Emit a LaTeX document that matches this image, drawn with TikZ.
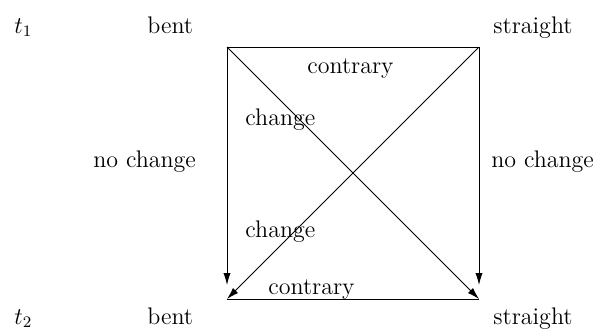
\documentclass[tikz,border=0pt]{standalone}
\usetikzlibrary{positioning,arrows.meta}
\tikzset{
  flow/.style={-{Latex[length=6pt,width=3.6pt]},line width=0.45pt},
  edge/.style={line width=0.5pt},
  lbl/.style={anchor=base west,inner sep=0pt,font=\fontsize{12}{14}\selectfont}
}
\begin{document}
\begin{tikzpicture}[x=0.5pt,y=-0.5pt]
  \useasboundingbox (0,0) rectangle (594,329);
  % corners of the square
  \coordinate (tl) at (227,47);
  \coordinate (tr) at (479,47);
  \coordinate (bl) at (227,299);
  \coordinate (br) at (479,299);
  % row labels
  \node[lbl] (time1) at (14,33) {$t_1$};
  \node[lbl] (bent1) at (147,33) {bent};
  \node[lbl] (straight1) at (493,33) {straight};
  \node[lbl] (time2) at (14,324) {$t_2$};
  \node[lbl] (bent2) at (147,324) {bent};
  \node[lbl] (straight2) at (493,324) {straight};
  % edge labels
  \node[lbl] (contrary1) at (307,73) {contrary};
  \node[lbl] (change1) at (245,125) {change};
  \node[lbl] (nochange1) at (93,167) {no change};
  \node[lbl] (nochange2) at (491,167) {no change};
  \node[lbl] (change2) at (245,237) {change};
  \node[lbl] (contrary2) at (268,294) {contrary};
  % connectors
  \draw[edge] (tl) -- (tr);
  \draw[edge] (bl) -- (br);
  \draw[flow,shorten >=7pt] (tl) -- (bl);
  \draw[flow,shorten >=7pt] (tr) -- (br);
  \draw[flow] (tl) -- (br);
  \draw[flow] (tr) -- (bl);
\end{tikzpicture}
\end{document}
